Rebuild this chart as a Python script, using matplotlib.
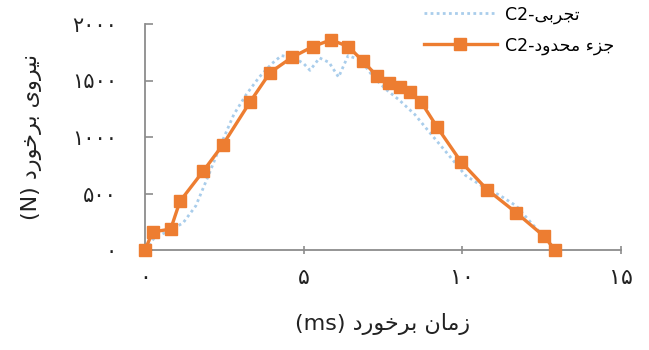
import matplotlib
matplotlib.use("Agg")
import matplotlib.pyplot as plt

plt.rcParams['font.family'] = ['DejaVu Sans']

# Finite-element result (orange squares)
fe_time = [0.0, 0.24, 0.81, 1.10, 1.84, 2.45, 3.31, 3.94, 4.63, 5.29, 5.86, 6.41,
           6.87, 7.31, 7.68, 8.02, 8.36, 8.70, 9.20, 9.96, 10.78, 11.70, 12.56, 12.93]
fe_force = [0, 160, 185, 430, 700, 930, 1310, 1570, 1705, 1800, 1860, 1800,
            1670, 1540, 1475, 1445, 1400, 1310, 1090, 780, 535, 330, 125, 0]

# Experimental result (dotted blue)
exp_time = [0.0, 0.3, 0.8, 1.2, 1.6, 2.0, 2.4, 2.8, 3.2, 3.6, 4.0, 4.3, 4.7, 5.0,
            5.2, 5.5, 5.8, 6.1, 6.4, 6.8, 7.2, 7.6, 8.0, 8.5, 9.0, 9.6, 10.1,
            10.6, 11.2, 11.7, 12.2, 12.6, 12.9]
exp_force = [0, 110, 175, 240, 390, 660, 940, 1200, 1380, 1530, 1650, 1720, 1700,
             1650, 1590, 1700, 1660, 1530, 1720, 1680, 1530, 1420, 1330, 1200,
             1030, 830, 660, 570, 480, 390, 230, 110, 0]

x_ticks = [0, 5, 10, 15]
y_ticks = [0, 500, 1000, 1500, 2000]

label_exp = ["C2-", "تجربی"]
label_fe = ["C2-", "جزء محدود"]
x_title = ["زمان برخورد", "(ms)"]
y_title = ["نیروی برخورد", "(N)"]

# Contextual forms: isolated, final, initial, medial
FORMS = {
    'ا': ('\uFE8D', '\uFE8E', None, None),
    'ب': ('\uFE8F', '\uFE90', '\uFE91', '\uFE92'),
    'ت': ('\uFE95', '\uFE96', '\uFE97', '\uFE98'),
    'ج': ('\uFE9D', '\uFE9E', '\uFE9F', '\uFEA0'),
    'ح': ('\uFEA1', '\uFEA2', '\uFEA3', '\uFEA4'),
    'خ': ('\uFEA5', '\uFEA6', '\uFEA7', '\uFEA8'),
    'د': ('\uFEA9', '\uFEAA', None, None),
    'ر': ('\uFEAD', '\uFEAE', None, None),
    'ز': ('\uFEAF', '\uFEB0', None, None),
    'م': ('\uFEE1', '\uFEE2', '\uFEE3', '\uFEE4'),
    'ن': ('\uFEE5', '\uFEE6', '\uFEE7', '\uFEE8'),
    'و': ('\uFEED', '\uFEEE', None, None),
    'ی': ('\uFEEF', '\uFEF0', '\uFEF3', '\uFEF4'),
    'ء': ('\uFE80', None, None, None),
}


def shape_word(word):
    out = []
    for i, ch in enumerate(word):
        if ch not in FORMS:
            out.append(ch)
            continue
        prev = word[i - 1] if i > 0 else None
        nxt = word[i + 1] if i + 1 < len(word) else None
        join_prev = (prev in FORMS and FORMS[prev][2] is not None
                     and FORMS[ch][1] is not None)
        join_next = (nxt in FORMS and FORMS[ch][2] is not None
                     and FORMS[nxt][1] is not None)
        f = FORMS[ch]
        if join_prev and join_next:
            out.append(f[3])
        elif join_prev:
            out.append(f[1])
        elif join_next:
            out.append(f[2])
        else:
            out.append(f[0])
    return ''.join(reversed(out))


def rtl(text):
    words = text.split(' ')
    return ' '.join(shape_word(w) for w in reversed(words))


def fa_digits(n):
    return str(n).translate(str.maketrans('0123456789', '۰۱۲۳۴۵۶۷۸۹'))


fig = plt.figure(figsize=(6.49, 3.5), dpi=100)
ax = fig.add_axes([145 / 649, 100 / 350, (621 - 145) / 649, 226 / 350])

orange = '#ED7D31'
blue = '#A9CDEB'

ax.plot(exp_time, exp_force, linestyle=(0, (1, 1.2)), color=blue, lw=2.0,
        label=label_exp[0] + rtl(label_exp[1]), zorder=2)
ax.plot(fe_time, fe_force, '-s', color=orange, lw=2.4, ms=9,
        markeredgecolor=orange, label=label_fe[0] + rtl(label_fe[1]), zorder=3,
        clip_on=False)

ax.set_xlim(0, 15)
ax.set_ylim(0, 2000)
ax.set_xticks(x_ticks)
ax.set_xticklabels([fa_digits(v) for v in x_ticks])
ax.set_yticks(y_ticks)
ax.set_yticklabels([fa_digits(v) for v in y_ticks])

for s in ('top', 'right'):
    ax.spines[s].set_visible(False)
for s in ('left', 'bottom'):
    ax.spines[s].set_color('#8c8c8c')
    ax.spines[s].set_linewidth(1.3)

ax.tick_params(axis='x', direction='inout', length=6, width=1.2, color='#8c8c8c',
               pad=10, labelsize=16, labelcolor='#222222')
ax.tick_params(axis='y', direction='in', length=6, width=1.2, color='#8c8c8c',
               pad=20, labelsize=15, labelcolor='#222222')

ax.set_xlabel(x_title[1] + ' ' + rtl(x_title[0]), fontsize=16, color='#222222',
              labelpad=18)
ax.set_ylabel(y_title[1] + ' ' + rtl(y_title[0]), fontsize=16, color='#222222',
              labelpad=22)

ax.legend(loc='upper left', bbox_to_anchor=(415 / 649, 1.01),
          bbox_transform=fig.transFigure, frameon=False, fontsize=12.5,
          handlelength=4.2, labelspacing=0.75, borderaxespad=0.1,
          handletextpad=0.5)

fig.savefig('out.png', dpi=100)
